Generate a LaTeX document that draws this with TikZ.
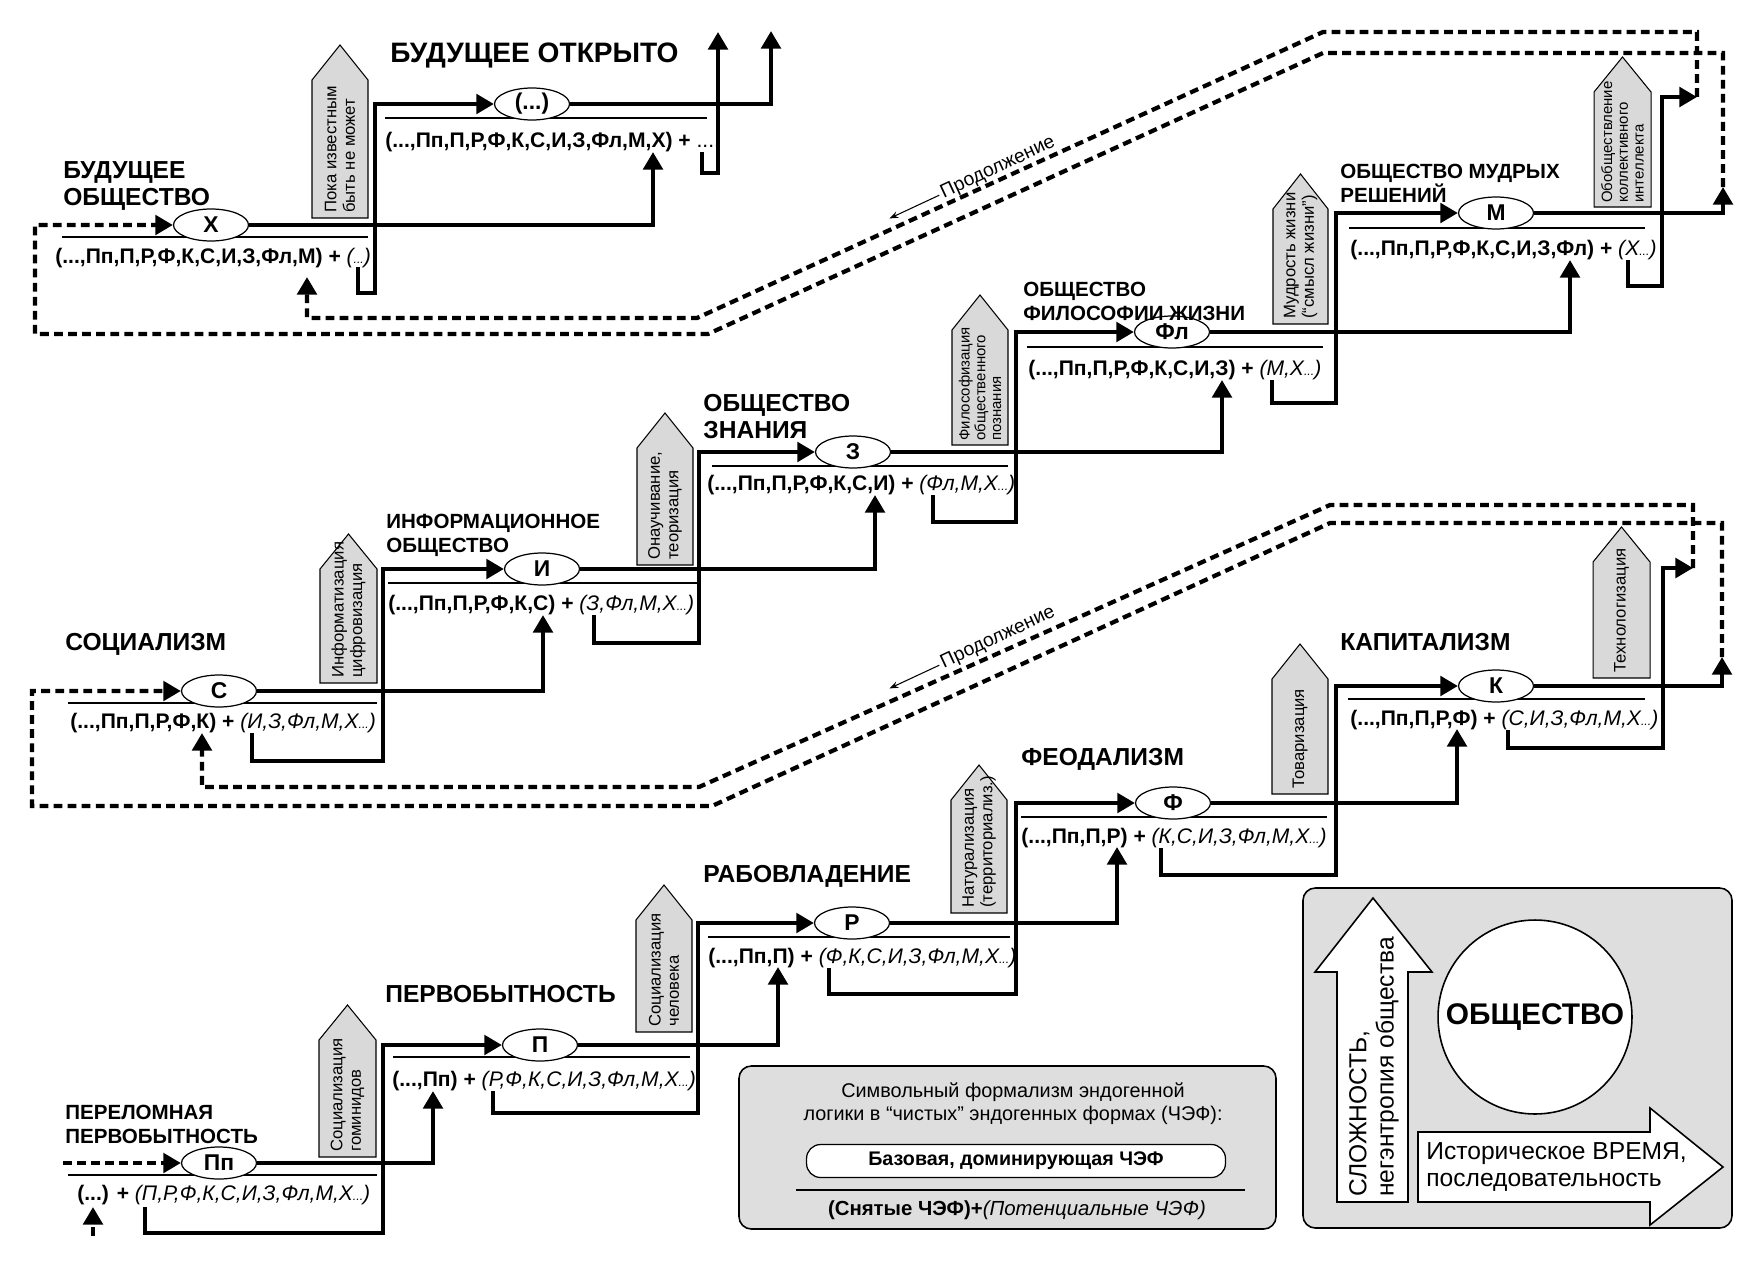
\documentclass[tikz,border=0pt]{standalone}
\usepackage{fontspec}
\setmainfont{Liberation Sans}
\usetikzlibrary{arrows.meta,positioning,calc,shapes.geometric}

\begin{document}
\begin{tikzpicture}[
  x=0.02cm, y=-0.02cm,
  mln/.style={line width=2.4pt},
  uln/.style={line width=1.2pt},
  dln/.style={line width=2.4pt,dash pattern=on 5pt off 3pt},
  arr/.style={-{Triangle[length=10pt,width=11pt]}},
  el/.style={ellipse,draw,line width=0.7pt,fill=white,minimum width=1.5cm,minimum height=0.64cm,inner sep=0pt,font=\fontsize{13}{13}\selectfont\bfseries},
  fm/.style={anchor=base west,inner sep=0pt,font=\fontsize{12}{13}\selectfont\bfseries},
  ttl/.style={anchor=base west,inner sep=0pt,align=left,font=\fontsize{14}{15}\selectfont\bfseries},
  sttl/.style={anchor=base west,inner sep=0pt,align=left,font=\fontsize{11.7}{13.3}\selectfont\bfseries},
  tagbox/.style={draw,line width=0.6pt,fill=black!15},
  tagtxt/.style={rotate=90,anchor=west,inner sep=0pt,align=left,font=\fontsize{9.5}{10.5}\selectfont},
  tagtxtc/.style={tagtxt,font=\fontsize{8.5}{9}\selectfont},
  cont/.style={rotate=25,anchor=base,inner sep=1.5pt,font=\fontsize{11}{12}\selectfont},
  lbox/.style={draw,line width=0.9pt,fill=black!13,rounded corners=7pt},
  bigarr/.style={draw,line width=0.9pt,fill=white}
]
\useasboundingbox[fill=white] (0,0) rectangle (1763,1264);

\draw[uln] (68,1175) -- (377,1175);
\draw[uln] (393,1057) -- (690,1057);
\draw[uln] (708,937) -- (1010,937);
\draw[uln] (1021,817) -- (1327,817);
\draw[uln] (1348,699) -- (1645,699);
\draw[uln] (68,703) -- (377,703);
\draw[uln] (388,583) -- (697,583);
\draw[uln] (712,466) -- (1008,466);
\draw[uln] (1027,347) -- (1323,347);
\draw[uln] (1349,228) -- (1645,228);
\draw[uln] (62,237) -- (368,237);
\draw[uln] (385,118) -- (707,118);

\node[el] (ePp) at (219,1163) {Пп};
\node[el] (eP) at (540,1045) {П};
\node[el] (eR) at (852,923) {Р};
\node[el] (eF) at (1173,803) {Ф};
\node[el] (eK) at (1496,686) {К};
\node[el] (eC) at (219,691) {С};
\node[el] (eI) at (542,569) {И};
\node[el] (eZ) at (853,452) {З};
\node[el] (eFl) at (1172,332) {Фл};
\node[el] (eM) at (1496,213) {М};
\node[el] (eX) at (211,225) {Х};
\node[el] (eE) at (532,104) {(...)};

\coordinate (inPp) at (63,1163);
\coordinate (inPpf) at (93,1236);
\coordinate (aPpf) at (93,1207);
\coordinate (aP) at (433,1091);
\coordinate (bPp) at (145,1207);
\coordinate (kPp) at (383,1233);
\coordinate (aR) at (778,967);
\coordinate (bP) at (493,1091);
\coordinate (kP) at (698,1113);
\coordinate (aF) at (1117,847);
\coordinate (bR) at (829,968);
\coordinate (kR) at (1016,994);
\coordinate (aK) at (1457,729);
\coordinate (bF) at (1161,848);
\coordinate (kF) at (1336,875);
\coordinate (aKm) at (1722,657);
\coordinate (bK) at (1508,730);
\coordinate (kK) at (1663,748);
\coordinate (aKr) at (1693,568);
\coordinate (aCf) at (202,733);
\coordinate (aI) at (543,615);
\coordinate (bC) at (252,733);
\coordinate (kC) at (383,761);
\coordinate (aZ) at (875,495);
\coordinate (bI) at (594,615);
\coordinate (kI) at (699,643);
\coordinate (aFl) at (1222,380);
\coordinate (bZ) at (933,495);
\coordinate (kZ) at (1016,522);
\coordinate (aM) at (1570,260);
\coordinate (bFl) at (1272,380);
\coordinate (kFl) at (1336,403);
\coordinate (aMm) at (1723,187);
\coordinate (bM) at (1628,260);
\coordinate (kM) at (1662,286);
\coordinate (aMr) at (1697,97);
\coordinate (aXf) at (307,277);
\coordinate (aE) at (653,152);
\coordinate (bX) at (358,267);
\coordinate (kX) at (375,293);
\coordinate (aEm) at (771,31);
\coordinate (bE) at (702,152);
\coordinate (kE) at (718,173);
\coordinate (aEr) at (718,32);

\draw[dln,arr] (inPp) -- (ePp.west);
\draw[dln,arr] (inPpf) -- (aPpf);
\draw[mln,arr] (ePp.east) -| (aP);
\draw[mln,arr] (bPp) |- (kPp) |- (eP.west);
\draw[mln,arr] (eP.east) -| (aR);
\draw[mln,arr] (bP) |- (kP) |- (eR.west);
\draw[mln,arr] (eR.east) -| (aF);
\draw[mln,arr] (bR) |- (kR) |- (eF.west);
\draw[mln,arr] (eF.east) -| (aK);
\draw[mln,arr] (bF) |- (kF) |- (eK.west);
\draw[mln,arr] (eK.east) -| (aKm);
\draw[mln,arr] (bK) |- (kK) |- (aKr);
\draw[dln,arr] (aKm) |- (1330,523) -- (712,806) -- (32,806) |- (eC.west);
\draw[dln,arr] (aKr) |- (1330,505) -- (699,787) -| (aCf);

\draw[mln,arr] (eC.east) -| (aI);
\draw[mln,arr] (bC) |- (kC) |- (eI.west);
\draw[mln,arr] (eI.east) -| (aZ);
\draw[mln,arr] (bI) |- (kI) |- (eZ.west);
\draw[mln,arr] (eZ.east) -| (aFl);
\draw[mln,arr] (bZ) |- (kZ) |- (eFl.west);
\draw[mln,arr] (eFl.east) -| (aM);
\draw[mln,arr] (bFl) |- (kFl) |- (eM.west);
\draw[mln,arr] (eM.east) -| (aMm);
\draw[mln,arr] (bM) |- (kM) |- (aMr);
\draw[dln,arr] (aMm) |- (1323,53) -- (708,334) -- (35,334) |- (eX.west);
\draw[dln,arr] (aMr) |- (1323,32) -- (697,318) -| (aXf);
\draw[mln,arr] (eX.east) -| (aE);
\draw[mln,arr] (bX) |- (kX) |- (eE.west);
\draw[mln,arr] (eE.east) -| (aEm);
\draw[mln,arr] (bE) |- (kE) -- (aEr);

\node[cont] (pr1) at (1000,172) {Продолжение};
\draw[line width=0.6pt,-{Stealth[length=5pt]}] (pr1.west) -- ++(205:1.1cm);
\node[cont] (pr2) at (1000,642) {Продолжение};
\draw[line width=0.6pt,-{Stealth[length=5pt]}] (pr2.west) -- ++(205:1.1cm);

\draw[tagbox] (319,1157) -- (319,1040) -- (347.5,1005) -- (376,1040) -- (376,1157) -- cycle;
\node[tagtxt] (gHom) at (347.5,1152) {Социализация\\гоминидов};
\draw[tagbox] (636,1032) -- (636,920) -- (664,885) -- (692,920) -- (692,1032) -- cycle;
\node[tagtxt] (gChel) at (664,1027) {Социализация\\человека};
\draw[tagbox] (951,913) -- (951,800) -- (979,765) -- (1007,800) -- (1007,913) -- cycle;
\node[tagtxt] (gNat) at (979,908) {Натурализация\\(территориализ.)};
\draw[tagbox] (1272,794) -- (1272,679) -- (1300,644) -- (1328,679) -- (1328,794) -- cycle;
\node[tagtxt] (gTov) at (1300,789) {Товаризация};
\draw[tagbox] (1593,678) -- (1593,562) -- (1621.5,527) -- (1650,562) -- (1650,678) -- cycle;
\node[tagtxt] (gTeh) at (1621.5,673) {Технологизация};
\draw[tagbox] (320,683) -- (320,569) -- (348.5,534) -- (377,569) -- (377,683) -- cycle;
\node[tagtxt] (gInf) at (348.5,678) {Информатизация\\цифровизация};
\draw[tagbox] (637,565) -- (637,448) -- (665,413) -- (693,448) -- (693,565) -- cycle;
\node[tagtxt] (gNau) at (665,560) {Онаучивание,\\теоризация};
\draw[tagbox] (952,445) -- (952,330) -- (980,295) -- (1008,330) -- (1008,445) -- cycle;
\node[tagtxtc] (gFil) at (980,441) {Философизация\\общественного\\познания};
\draw[tagbox] (1273,324) -- (1273,209) -- (1300.5,174) -- (1328,209) -- (1328,324) -- cycle;
\node[tagtxt] (gMud) at (1300.5,319) {Мудрость жизни\\(“смысл жизни”)};
\draw[tagbox] (1594,207) -- (1594,92) -- (1622.5,57) -- (1651,92) -- (1651,207) -- cycle;
\node[tagtxtc] (gObo) at (1622.5,203) {Обобществление\\коллективного\\интеллекта};
\draw[tagbox] (312,218) -- (312,80) -- (340,45) -- (368,80) -- (368,218) -- cycle;
\node[tagtxt] (gPok) at (340,213) {Пока известным\\быть не может};

\node[sttl] (hPp) at (65,1143) {ПЕРЕЛОМНАЯ\\ПЕРВОБЫТНОСТЬ};
\node[ttl] (hP) at (385,1002) {ПЕРВОБЫТНОСТЬ};
\node[ttl] (hR) at (703,882) {РАБОВЛАДЕНИЕ};
\node[ttl] (hF) at (1021,765) {ФЕОДАЛИЗМ};
\node[ttl] (hK) at (1340,650) {КАПИТАЛИЗМ};
\node[ttl] (hC) at (65,650) {СОЦИАЛИЗМ};
\node[sttl] (hI) at (386,552) {ИНФОРМАЦИОННОЕ\\ОБЩЕСТВО};
\node[ttl] (hZ) at (703,438) {ОБЩЕСТВО\\ЗНАНИЯ};
\node[sttl] (hFl) at (1023,320) {ОБЩЕСТВО\\ФИЛОСОФИИ ЖИЗНИ};
\node[sttl] (hM) at (1340,202) {ОБЩЕСТВО МУДРЫХ\\РЕШЕНИЙ};
\node[ttl] (hX) at (63,205) {БУДУЩЕЕ\\ОБЩЕСТВО};
\node[ttl,font=\fontsize{16}{17}\selectfont\bfseries] (hE) at (390,63) {БУДУЩЕЕ ОТКРЫТО};

\node[fm] (fPp) at (77,1200) {(...) + {\mdseries\itshape(П,Р,Ф,К,С,И,З,Фл,М,Х{\scriptsize...})}};
\node[fm] (fP) at (392,1086) {(...,Пп) + {\mdseries\itshape(Р,Ф,К,С,И,З,Фл,М,Х{\scriptsize...})}};
\node[fm] (fR) at (708,963) {(...,Пп,П) + {\mdseries\itshape(Ф,К,С,И,З,Фл,М,Х{\scriptsize...})}};
\node[fm] (fF) at (1021,843) {(...,Пп,П,Р) + {\mdseries\itshape(К,С,И,З,Фл,М,Х{\scriptsize...})}};
\node[fm] (fK) at (1350,725) {(...,Пп,П,Р,Ф) + {\mdseries\itshape(С,И,З,Фл,М,Х{\scriptsize...})}};
\node[fm] (fC) at (70,728) {(...,Пп,П,Р,Ф,К) + {\mdseries\itshape(И,З,Фл,М,Х{\scriptsize...})}};
\node[fm] (fI) at (388,610) {(...,Пп,П,Р,Ф,К,С) + {\mdseries\itshape(З,Фл,М,Х{\scriptsize...})}};
\node[fm] (fZ) at (707,490) {(...,Пп,П,Р,Ф,К,С,И) + {\mdseries\itshape(Фл,М,Х{\scriptsize...})}};
\node[fm] (fFl) at (1028,375) {(...,Пп,П,Р,Ф,К,С,И,З) + {\mdseries\itshape(М,Х{\scriptsize...})}};
\node[fm] (fM) at (1350,255) {(...,Пп,П,Р,Ф,К,С,И,З,Фл) + {\mdseries\itshape(Х{\scriptsize...})}};
\node[fm] (fX) at (55,263) {(...,Пп,П,Р,Ф,К,С,И,З,Фл,М) + {\mdseries\itshape({\scriptsize...})}};
\node[fm] (fE) at (385,147) {(...,Пп,П,Р,Ф,К,С,И,З,Фл,М,Х) + {\mdseries....}};

\draw[lbox] (739,1066) rectangle (1276,1229);
\node[align=center,font=\fontsize{11.3}{13}\selectfont] (lg1) at (1013,1104) {Символьный формализм эндогенной\\логики в “чистых” эндогенных формах (ЧЭФ):};
\node[draw,line width=0.7pt,fill=white,rounded corners=8pt,minimum width=8.38cm,minimum height=0.66cm,font=\fontsize{11.2}{13}\selectfont\bfseries] (lg2) at (1016,1161) {Базовая, доминирующая ЧЭФ};
\draw[line width=1.3pt] (796,1190) -- (1245,1190);
\node[font=\fontsize{11.6}{13}\selectfont\bfseries] (lg3) at (1017,1210) {(Снятые ЧЭФ)+{\mdseries\itshape(Потенциальные ЧЭФ)}};

\draw[lbox] (1303,888) rectangle (1732,1228);
\draw[bigarr] (1337,1202) -- (1337,972) -- (1315,972) -- (1373,898) -- (1432,972) -- (1408,972) -- (1408,1202) -- cycle;
\node[rotate=90,anchor=west,align=left,inner sep=0pt,font=\fontsize{14}{15.5}\selectfont] (slz) at (1374,1197) {СЛОЖНОСТЬ,\\негэнтропия общества};
\node[circle,draw,line width=0.9pt,fill=white,minimum size=3.88cm,font=\fontsize{17}{17}\selectfont\bfseries] (soc) at (1535,1017) {ОБЩЕСТВО};
\draw[bigarr] (1418,1132) -- (1650,1132) -- (1650,1108) -- (1723,1167) -- (1650,1225) -- (1650,1202) -- (1418,1202) -- cycle;
\node[anchor=west,align=left,inner sep=0pt,font=\fontsize{14}{15.5}\selectfont] (vrm) at (1426,1167) {Историческое ВРЕМЯ,\\последовательность};
\end{tikzpicture}
\end{document}
